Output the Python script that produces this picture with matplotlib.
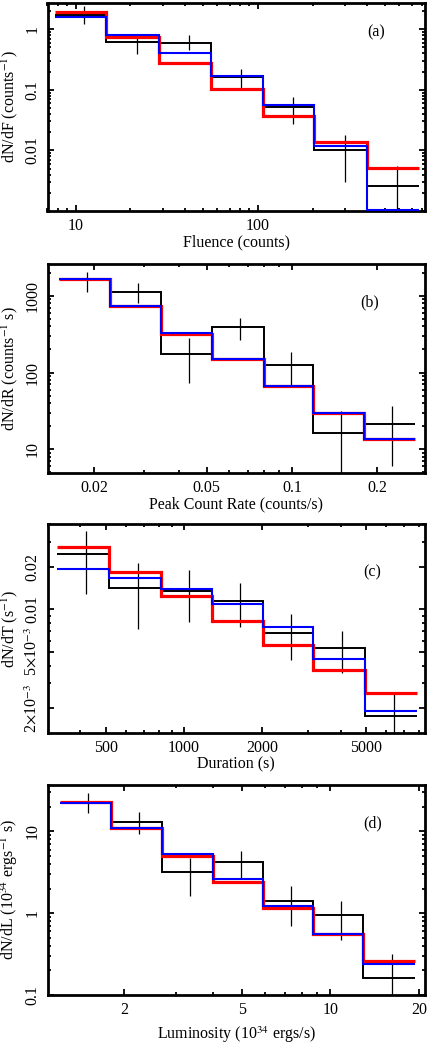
import matplotlib
matplotlib.use("Agg")
import matplotlib.pyplot as plt
from matplotlib.ticker import LogLocator, NullFormatter, FixedLocator, FixedFormatter

plt.rcParams["font.family"] = ["Liberation Serif", "DejaVu Serif"]
plt.rcParams["mathtext.fontset"] = "stix"

# ---- (a) fluence ----
a_edges = [7.66, 14.6, 28.6, 55.1, 107.4, 204.8, 398, 774]
a_red = [1.95, 0.74, 0.275, 0.102, 0.037, 0.0135, 0.0051]
a_blue = [1.58, 0.81, 0.40, 0.166, 0.056, 0.012, 0.00105]
a_black = [1.72, 0.61, 0.60, 0.162, 0.051, 0.0103, 0.0026]
a_x = [11.1, 21.6, 41.9, 81.2, 156, 301, 586]
a_lo = [1.22, 0.39, 0.455, 0.103, 0.0275, 0.003, 0.0001]
a_hi = [2.37, 0.81, 0.81, 0.22, 0.076, 0.018, 0.0055]

# ---- (b) peak count rate ----
b_edges = [0.01496, 0.0228, 0.0344, 0.0521, 0.0794, 0.119, 0.180, 0.273]
b_red = [1635, 735, 318, 149, 66.7, 30, 13.5]
b_blue = [1635, 735, 330, 149, 66.7, 30, 13.5]
b_black = [1635, 1107, 172, 388, 124, 16.1, 21.3]
b_x = [0.0189, 0.0286, 0.0433, 0.0658, 0.0992, 0.1495, 0.2265]
b_lo = [1107, 795, 73.6, 265, 68.7, 1.0, 6.1]
b_hi = [2040, 1450, 279, 508, 183, 31.8, 37]

# ---- (c) duration ----
c_edges = [324, 515, 817, 1279, 2020, 3145, 4966, 7850]
c_red = [0.0274, 0.01824, 0.0124, 0.0083, 0.00557, 0.00373, 0.00255]
c_blue = [0.0192, 0.0167, 0.0139, 0.0109, 0.00754, 0.00444, 0.00192]
c_black = [0.0246, 0.01406, 0.0135, 0.0115, 0.00684, 0.0053, 0.00177]
c_x = [420, 666, 1048, 1650, 2583, 4056, 6408]
c_lo = [0.0128, 0.00723, 0.00818, 0.00746, 0.00439, 0.00357, 0.0005]
c_hi = [0.0357, 0.0211, 0.019, 0.0154, 0.00923, 0.00703, 0.00251]

# ---- (d) luminosity ----
d_edges = [1.208, 1.807, 2.684, 3.995, 5.93, 8.75, 12.93, 19.34]
d_red = [23.1, 11.0, 5.07, 2.41, 1.167, 0.55, 0.264]
d_blue = [22.1, 11.0, 5.37, 2.6, 1.21, 0.555, 0.238]
d_black = [22.1, 13.2, 3.18, 4.2, 1.41, 0.95, 0.16]
d_x = [1.508, 2.246, 3.34, 4.96, 7.34, 10.84, 16.1]
d_lo = [16.7, 9.4, 1.63, 2.65, 0.69, 0.465, 0.01]
d_hi = [29.2, 17.2, 4.77, 5.73, 2.15, 1.42, 0.32]

panels = [
    dict(edges=a_edges, red=a_red, blue=a_blue, black=a_black, x=a_x, lo=a_lo, hi=a_hi,
         xlim=(7.0, 830), ylim=(0.001, 2.7),
         xt=[10, 100], xtl=["10", "100"],
         yt=[0.01, 0.1, 1], ytl=["0.01", "0.1", "1"],
         xlabel="Fluence (counts)", ylabel="dN/dF (counts$^{-1}$)", tag="(a)",
         tagpos=(0.87, 0.86), box=(3, 211), lpad=0),
    dict(edges=b_edges, red=b_red, blue=b_blue, black=b_black, x=b_x, lo=b_lo, hi=b_hi,
         xlim=(0.01365, 0.296), ylim=(4.9, 2600),
         xt=[0.02, 0.05, 0.1, 0.2], xtl=["0.02", "0.05", "0.1", "0.2"],
         yt=[10, 100, 1000], ytl=["10", "100", "1000"],
         xlabel="Peak Count Rate (counts/s)", ylabel="dN/dR (counts$^{-1}$ s)", tag="(b)",
         tagpos=(0.854, 0.815), box=(264, 473), lpad=0),
    dict(edges=c_edges, red=c_red, blue=c_blue, black=c_black, x=c_x, lo=c_lo, hi=c_hi,
         xlim=(299, 8450), ylim=(0.00134, 0.040),
         xt=[500, 1000, 2000, 5000], xtl=["500", "1000", "2000", "5000"],
         yt=[0.002, 0.005, 0.01, 0.02],
         ytl=["2$\\times$10$^{-3}$", "5$\\times$10$^{-3}$", "0.01", "0.02"],
         xlabel="Duration (s)", ylabel="dN/dT (s$^{-1}$)", tag="(c)",
         tagpos=(0.859, 0.767), box=(524, 733), lpad=0),
    dict(edges=d_edges, red=d_red, blue=d_blue, black=d_black, x=d_x, lo=d_lo, hi=d_hi,
         xlim=(1.10, 20.9), ylim=(0.1, 37),
         xt=[2, 5, 10, 20], xtl=["2", "5", "10", "20"],
         yt=[0.1, 1, 10], ytl=["0.1", "1", "10"],
         xlabel="Luminosity (10$^{34}$ ergs/s)", ylabel="dN/dL (10$^{34}$ ergs$^{-1}$ s)",
         tag="(d)", tagpos=(0.861, 0.816), box=(785, 995), lpad=5),
]

W, H = 436, 1048
fig = plt.figure(figsize=(W / 100, H / 100), dpi=100)

for p in panels:
    top, bot = p["box"]
    left, right = 47.5, 425
    ax = fig.add_axes([left / W, 1 - bot / H, (right - left) / W, (bot - top) / H])
    ax.set_xscale("log")
    ax.set_yscale("log")

    ax.stairs(p["black"], p["edges"], baseline=None, color="black", lw=1.4, zorder=2)
    ax.vlines(p["x"], p["lo"], p["hi"], color="black", lw=0.9, zorder=2)
    ax.stairs(p["red"], p["edges"], baseline=None, color="red", lw=2.3, zorder=3)
    ax.stairs(p["blue"], p["edges"], baseline=None, color="blue", lw=1.5, zorder=4)

    ax.set_xlim(*p["xlim"])
    ax.set_ylim(*p["ylim"])

    ax.xaxis.set_major_locator(FixedLocator(p["xt"]))
    ax.xaxis.set_major_formatter(FixedFormatter(p["xtl"]))
    ax.xaxis.set_minor_locator(LogLocator(base=10, subs=range(1, 10)))
    ax.xaxis.set_minor_formatter(NullFormatter())
    ax.yaxis.set_major_locator(FixedLocator(p["yt"]))
    ax.yaxis.set_major_formatter(FixedFormatter(p["ytl"]))
    ax.yaxis.set_minor_locator(LogLocator(base=10, subs=range(1, 10)))
    ax.yaxis.set_minor_formatter(NullFormatter())

    ax.tick_params(which="both", direction="in", top=True, right=True, width=1.3,
                   labelsize=11.5, pad=5)
    ax.tick_params(which="major", length=4.5)
    ax.tick_params(which="minor", length=2.5)
    for lbl in ax.get_yticklabels():
        lbl.set_rotation(90)
        lbl.set_va("center")
    for s in ax.spines.values():
        s.set_linewidth(2)

    ax.set_xlabel(p["xlabel"], fontsize=11.5, labelpad=p["lpad"])
    ax.set_ylabel(p["ylabel"], fontsize=11.5, labelpad=3)
    ax.text(p["tagpos"][0], p["tagpos"][1], p["tag"], transform=ax.transAxes,
            ha="center", va="center", fontsize=11.5)

fig.savefig("out.png", dpi=100)
